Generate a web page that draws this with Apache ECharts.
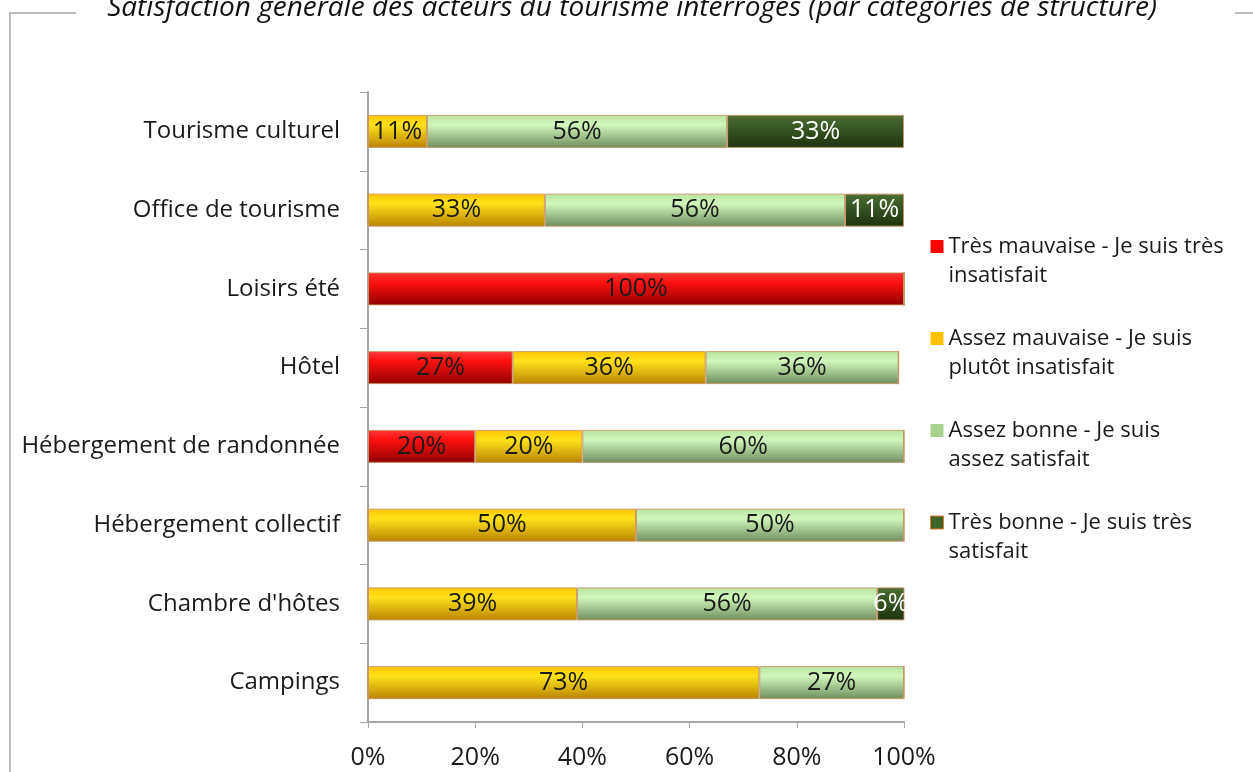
<!DOCTYPE html>
<html>
<head>
<meta charset="utf-8">
<script src="https://cdn.jsdelivr.net/npm/echarts@6/dist/echarts.min.js"></script>
<style>
  html, body { margin: 0; padding: 0; background: #fff; }
  #chart { width: 1253px; height: 772px; }
</style>
</head>
<body>
<div id="chart"></div>
<script>
// catégories (de bas en haut)
const categories = ['Campings', "Chambre d'hôtes", 'Hébergement collectif', 'Hébergement de randonnée', 'Hôtel', 'Loisirs été', 'Office de tourisme', 'Tourisme culturel'];

// séries (en %)
const tresMauvaise = [0, 0, 0, 20, 27, 100, 0, 0];
const assezMauvaise = [73, 39, 50, 20, 36, 0, 33, 11];
const assezBonne = [27, 56, 50, 60, 36, 0, 56, 56];
const tresBonne = [0, 6, 0, 0, 0, 0, 11, 33];

const seriesNames = [
  'Très mauvaise - Je suis très\ninsatisfait',
  'Assez mauvaise - Je suis\nplutôt insatisfait',
  'Assez bonne - Je suis\nassez satisfait',
  'Très bonne - Je suis très\nsatisfait'
];

const xTicks = [0, 20, 40, 60, 80, 100];

const chart = echarts.init(document.getElementById('chart'));

function grad(top, mid, bottom) {
  return new echarts.graphic.LinearGradient(0, 0, 0, 1, [
    { offset: 0, color: top },
    { offset: 0.3, color: mid },
    { offset: 1, color: bottom }
  ]);
}

const FONT = '"Open Sans", "Noto Sans", sans-serif';
// carré en haut de l'icône, pour l'aligner sur la première ligne du texte
const legendIcon = 'path://M0,0L13,0L13,13L0,13Z M0,42';

function makeSeries(name, data, fill, labelColor) {
  return {
    name: name,
    type: 'bar',
    stack: 'total',
    barWidth: 33,
    data: data,
    itemStyle: { color: fill, borderColor: 'rgba(200,150,100,0.9)', borderWidth: 1 },
    label: {
      show: true,
      position: 'inside',
      color: labelColor,
      fontSize: 25,
      fontFamily: FONT,
      formatter: p => (p.value > 0 ? p.value + '%' : '')
    },
    emphasis: { disabled: true }
  };
}

const option = {
  backgroundColor: '#fff',
  animation: false,
  title: {
    text: 'Satisfaction générale des acteurs du tourisme interrogés (par catégories de structure)',
    left: 627,
    textAlign: 'center',
    top: -11,
    textStyle: { fontFamily: FONT, fontStyle: 'italic', fontWeight: 'normal', fontSize: 28, color: '#111' }
  },
  graphic: [
    { type: 'polyline', shape: { points: [[76, 13], [10, 13], [10, 772]] }, style: { stroke: '#a6a6a6', lineWidth: 1.5, fill: null } },
    { type: 'line', shape: { x1: 1235, y1: 13, x2: 1253, y2: 13 }, style: { stroke: '#a6a6a6', lineWidth: 1.5 } }
  ],
  legend: {
    orient: 'vertical',
    left: 925,
    top: 227,
    itemGap: 34,
    itemWidth: 13,
    itemHeight: 42,
    icon: legendIcon,
    textStyle: { fontFamily: FONT, fontSize: 22, color: '#1a1a1a', lineHeight: 29 },
    data: seriesNames.map((n, i) => ({
      name: n,
      itemStyle: i === 3 ? { color: '#3f6428', borderColor: '#e07b39', borderWidth: 1 } : { color: ['#ff0000', '#ffc000', '#a9d18e', '#3f6428'][i], borderWidth: 0 }
    }))
  },
  grid: { left: 368, right: 349, top: 92, bottom: 50, containLabel: false },
  xAxis: {
    type: 'value',
    min: 0,
    max: 100,
    interval: 20,
    axisLine: { show: true, lineStyle: { color: '#a6a6a6', width: 2 } },
    axisTick: { show: true, length: 6, lineStyle: { color: '#a6a6a6' } },
    splitLine: { show: false },
    axisLabel: {
      fontFamily: FONT, fontSize: 25, color: '#1a1a1a', margin: 23,
      formatter: v => (xTicks.includes(v) ? v + '%' : '')
    }
  },
  yAxis: {
    type: 'category',
    data: categories,
    axisLine: { show: true, lineStyle: { color: '#a6a6a6', width: 2 } },
    axisTick: { show: true, length: 8, lineStyle: { color: '#a6a6a6' } },
    axisLabel: { fontFamily: FONT, fontSize: 24, color: '#1a1a1a', margin: 28 }
  },
  series: [
    makeSeries(seriesNames[0], tresMauvaise, grad('#ff3a3a', '#ff1010', '#8f0000'), '#1a1a1a'),
    makeSeries(seriesNames[1], assezMauvaise, grad('#ffc400', '#ffe21a', '#b98300'), '#1a1a1a'),
    makeSeries(seriesNames[2], assezBonne, grad('#b7e49c', '#d2f7bb', '#6f8d5c'), '#1a1a1a'),
    makeSeries(seriesNames[3], tresBonne, grad('#4c6e34', '#3d5c26', '#1e3210'), '#ffffff')
  ]
};

chart.setOption(option);
</script>
</body>
</html>
